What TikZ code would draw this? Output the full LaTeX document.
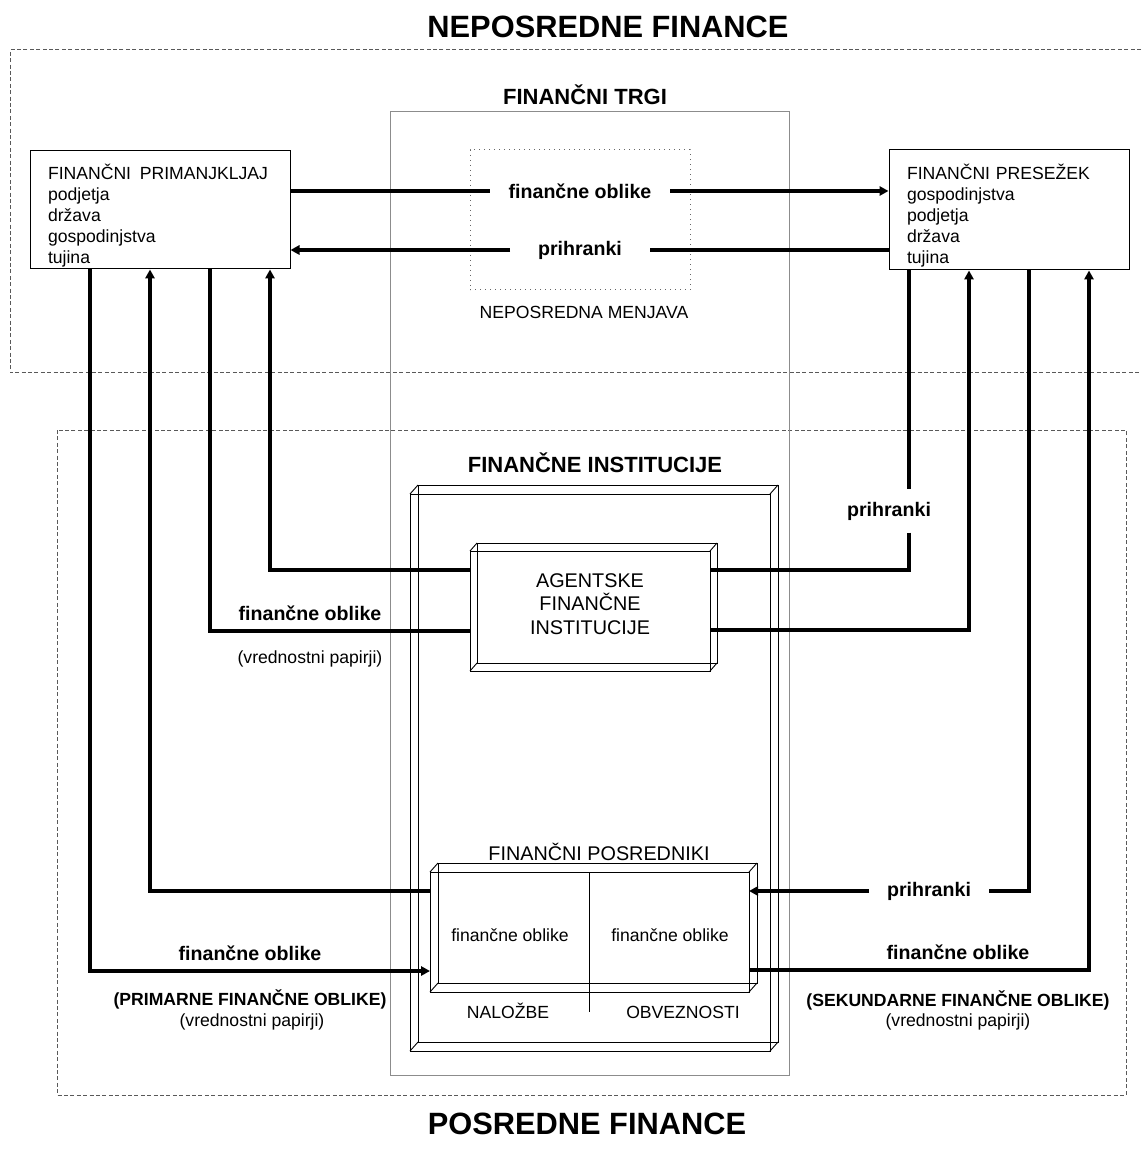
\documentclass[tikz,border=0pt]{standalone}
\usepackage{fontspec}
\setmainfont{Liberation Sans}
\usetikzlibrary{arrows.meta}

\newcommand\regtxt{\fontsize{8.8}{10.5}\selectfont}
\newcommand\midtxt{\fontsize{9.9}{11.7}\selectfont}
\newcommand\boldtxt{\fontsize{9.8}{11.5}\selectfont\bfseries}
\newcommand\headtxt{\fontsize{11}{13}\selectfont\bfseries}
\newcommand\titletxt{\fontsize{15.4}{18}\selectfont\bfseries}

% back face and depth edges of a wire cube
\newcommand\cubeback[2]{%
  \draw[cubeline] ([shift={#2}]#1.north west) rectangle ([shift={#2}]#1.south east);
  \foreach \c in {north west,north east,south west,south east}
    \draw[cubeline] (#1.\c) -- ([shift={#2}]#1.\c);}

\begin{document}
\begin{tikzpicture}[x=0.5pt, y=-0.5pt,
  flow/.style={line width=1.6pt},
  flowarrow/.style={-{Triangle[length=4.5pt,width=4.6pt]}},
  sector/.style={draw, line width=0.5pt, align=left, inner xsep=9pt, inner ysep=0pt,
    font=\regtxt},
  cube/.style={draw, line width=0.45pt, inner sep=0pt, outer sep=0pt},
  cubeline/.style={line width=0.45pt},
  zone/.style={draw=black!65, line width=0.5pt, dash pattern=on 2pt off 1.2pt},
  lab/.style={font=\boldtxt},
  small/.style={font=\fontsize{8.8}{10.5}\selectfont\bfseries},
  note/.style={font=\regtxt}]
  \useasboundingbox (0,0) rectangle (1141,1149);

  % titles and zones
  \node[font=\titletxt] (direct title) at (608,27) {NEPOSREDNE FINANCE};
  \node[font=\titletxt] (indirect title) at (587,1124) {POSREDNE FINANCE};
  \draw[zone] (1141,50) -- (10,50) -- (10,373) -- (1141,373);
  \draw[zone] (57,430) rectangle (1126,1095);

  % financial markets
  \node[draw=black!45, line width=0.4pt, minimum width=199.5pt, minimum height=482pt,
    inner sep=0pt] (markets) at (589.5,593) {};
  \node[font=\headtxt] (markets label) at (585,95) {FINANČNI TRGI};
  \node[draw=black!60, dotted, line width=0.5pt, minimum width=110pt, minimum height=70pt,
    inner sep=0pt] (direct) at (580,220) {};
  \node[note] (direct label) at (584,312) {NEPOSREDNA MENJAVA};

  % sectors
  \node[sector, text width=112pt, minimum height=59pt] (deficit) at (160,210)
    {\rule{0pt}{13.5pt}FINANČNI\ \,PRIMANJKLJAJ\\podjetja\\država\\gospodinjstva\\tujina};
  \node[sector, text width=102pt, minimum height=60pt] (surplus) at (1009,210)
    {\rule{0pt}{13.5pt}FINANČNI PRESEŽEK\\gospodinjstva\\podjetja\\država\\tujina};

  % financial institutions
  \node[font=\headtxt] (inst label) at (595,463) {FINANČNE INSTITUCIJE};
  \node[cube, minimum width=180pt, minimum height=278.5pt] (inst) at (590,772.5) {};
  \cubeback{inst}{(8,-9)}
  \node[cube, minimum width=120pt, minimum height=60pt, align=center, font=\midtxt]
    (agent) at (590,611) {AGENTSKE\\FINANČNE\\INSTITUCIJE\rule[-7pt]{0pt}{0pt}};
  \cubeback{agent}{(7,-8)}
  \node[font=\midtxt] (inter label) at (599,852) {FINANČNI POSREDNIKI};
  \node[cube, minimum width=159.5pt, minimum height=60pt] (inter) at (589.5,932) {};
  \cubeback{inter}{(8,-9)}
  \draw[cubeline] (inter.north) -- ++(0,140);
  \node[note] (assets) at (510,935) {finančne oblike};
  \node[note] (liabs) at (670,935) {finančne oblike};
  \node[note, anchor=base] (assets label) at (508,1018) {NALOŽBE};
  \node[note, anchor=base] (liabs label) at (683,1018) {OBVEZNOSTI};

  % direct exchange
  \node[lab, inner xsep=9.25pt] (formsA) at (580,191) {finančne oblike};
  \node[lab, inner xsep=13.75pt] (savA) at (580,250) {prihranki};
  \draw[flow] (deficit.east |- formsA) -- (formsA.west);
  \draw[flow, flowarrow] (formsA.east) -- (surplus.west |- formsA);
  \draw[flow] (surplus.west |- savA) -- (savA.east);
  \draw[flow, flowarrow] (savA.west) -- (deficit.east |- savA);

  % corner points
  \coordinate (c1) at (90,971);
  \coordinate (c2) at (150,891);
  \coordinate (c3) at (210,631);
  \coordinate (c4) at (270,570);
  \coordinate (c5) at (909,570);
  \coordinate (c6) at (969,630);
  \coordinate (c7) at (1029,891);
  \coordinate (c8) at (1089,970);

  % deficit side
  \draw[flow, flowarrow] (deficit.south -| c1) -- (c1) -- (inter.west |- c1);
  \draw[flow, flowarrow] (inter.west |- c2) -- (c2) -- (deficit.south -| c2);
  \draw[flow] (deficit.south -| c3) -- (c3) -- (agent.west |- c3);
  \draw[flow, flowarrow] (agent.west |- c4) -- (c4) -- (deficit.south -| c4);
  \node[lab] (formsB) at (310,613) {finančne oblike};
  \node[note] (papersB) at (310,659) {(vrednostni papirji)};
  \node[lab] (formsC) at (250,953) {finančne oblike};
  \node[small] (primary) at (250,999) {(PRIMARNE FINANČNE OBLIKE)};
  \node[note] (papersC) at (252,1022) {(vrednostni papirji)};

  % surplus side
  \node[lab, inner ysep=6pt] (savC) at (889,511) {prihranki};
  \draw[flow] (surplus.south -| c5) -- (c5 |- savC.north);
  \draw[flow] (c5 |- savC.south) -- (c5) -- (agent.east |- c5);
  \draw[flow, flowarrow] (agent.east |- c6) -- (c6) -- (surplus.south -| c6);
  \node[lab, inner xsep=8.75pt] (savD) at (929,891) {prihranki};
  \draw[flow] (surplus.south -| c7) -- (c7) -- (savD.east);
  \draw[flow, flowarrow] (savD.west) -- (inter.east |- c7);
  \draw[flow, flowarrow] (inter.east |- c8) -- (c8) -- (surplus.south -| c8);
  \node[lab] (formsD) at (958,952) {finančne oblike};
  \node[small] (secondary) at (958,1000) {(SEKUNDARNE FINANČNE OBLIKE)};
  \node[note] (papersD) at (958,1022) {(vrednostni papirji)};
\end{tikzpicture}
\end{document}
